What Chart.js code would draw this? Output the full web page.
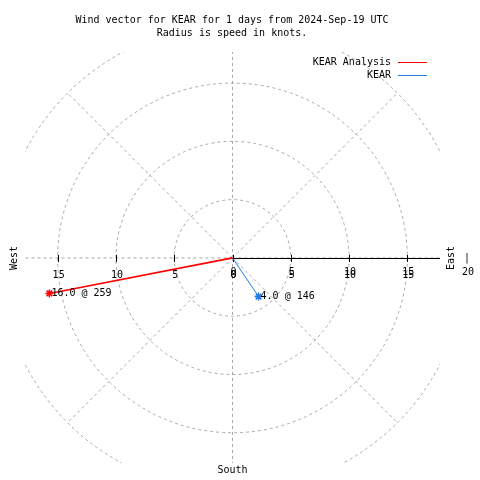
<!DOCTYPE html>
<html>
<head>
<meta charset="utf-8">
<script src="https://cdn.jsdelivr.net/npm/chart.js@4/dist/chart.umd.min.js"></script>
<style>
  body { margin: 0; background: #fff; }
  canvas { display: block; }
</style>
</head>
<body>
<canvas id="wind" width="480" height="480"></canvas>
<script>
// wind data, direction in degrees (from north), speed in knots
const stations = ['KEAR Analysis', 'KEAR'];
const speeds = [16.0, 4.0];
const directions = [259, 146];
const colors = ['#ff0000', '#1e7ae0'];
const widths = [1.6, 1];

const rings = [5, 10, 15, 20];
const spokes = [0, 45, 90, 135, 180, 225, 270, 315];
const tickVals = [0, 5, 10, 15];
const titleLines = ['Wind vector for KEAR for 1 days from 2024-Sep-19 UTC', 'Radius is speed in knots.'];

const FONT = '10px "DejaVu Sans Mono", monospace';

const toXY = (spd, dir) => {
    const r = dir * Math.PI / 180;
    return { x: spd * Math.sin(r), y: spd * Math.cos(r) };
};

const datasets = stations.map((name, i) => ({
    label: name,
    data: [{ x: 0, y: 0 }, toXY(speeds[i], directions[i])],
    showLine: true,
    borderColor: colors[i],
    backgroundColor: colors[i],
    borderWidth: widths[i],
    pointStyle: 'star',
    pointRadius: [0, 4],
    pointBorderWidth: 1.5,
    pointBorderColor: colors[i]
}));

const polarDecor = {
    id: 'polarDecor',
    beforeDatasetsDraw(chart) {
        const { ctx, chartArea: a, scales: { x, y } } = chart;
        const cx = x.getPixelForValue(0), cy = y.getPixelForValue(0);
        const k = x.getPixelForValue(1) - cx;
        ctx.save();
        ctx.beginPath();
        ctx.rect(a.left, a.top, a.right - a.left, a.bottom - a.top);
        ctx.clip();
        ctx.strokeStyle = '#a8a8a8';
        ctx.lineWidth = 1;
        ctx.setLineDash([3, 3]);
        rings.forEach(r => {
            ctx.beginPath();
            ctx.arc(cx, cy, r * k, 0, Math.PI * 2);
            ctx.stroke();
        });
        spokes.forEach(d => {
            const p = toXY(rings[rings.length - 1], d);
            if (d === 0 || d === 180) {
                p.y = d === 0 ? 30 : -30;
            }
            ctx.beginPath();
            ctx.moveTo(cx, cy);
            ctx.lineTo(x.getPixelForValue(p.x), y.getPixelForValue(p.y));
            ctx.stroke();
        });
        ctx.restore();

        // east axis (solid)
        ctx.save();
        ctx.strokeStyle = '#000';
        ctx.lineWidth = 1;
        ctx.beginPath();
        ctx.moveTo(cx, Math.round(cy) + 0.5);
        ctx.lineTo(a.right, Math.round(cy) + 0.5);
        ctx.stroke();
        tickVals.forEach(v => {
            [v, -v].forEach(t => {
                const px = Math.round(x.getPixelForValue(t)) + 0.5;
                ctx.beginPath();
                ctx.moveTo(px, cy - 3);
                ctx.lineTo(px, cy + 4);
                ctx.stroke();
            });
        });
        ctx.restore();
    },
    afterDatasetsDraw(chart) {
        const { ctx, chartArea: a, scales: { x, y } } = chart;
        const cx = x.getPixelForValue(0), cy = y.getPixelForValue(0);
        ctx.save();
        ctx.fillStyle = '#000';
        ctx.font = FONT;
        ctx.textBaseline = 'middle';

        // title
        ctx.textAlign = 'center';
        titleLines.forEach((t, i) => ctx.fillText(t, 232, 20 + i * 13));

        // tick labels (east side is printed twice, slightly shifted)
        tickVals.forEach(v => {
            ctx.fillText(String(v), x.getPixelForValue(-v) + 1, cy + 17);
            ctx.fillText(String(v), x.getPixelForValue(v) + 1, cy + 14);
            ctx.fillText(String(v), x.getPixelForValue(v) + 1, cy + 17);
        });
        ctx.fillText('20', 468, cy + 14);
        ctx.fillText('|', 467, cy);
        ctx.fillText('South', cx, 470);

        // rotated compass labels
        [['East', 451], ['West', 14]].forEach(([t, px]) => {
            ctx.save();
            ctx.translate(px, cy);
            ctx.rotate(-Math.PI / 2);
            ctx.fillText(t, 0, 0);
            ctx.restore();
        });

        // vector annotations
        ctx.textAlign = 'left';
        stations.forEach((s, i) => {
            const p = toXY(speeds[i], directions[i]);
            ctx.fillText(speeds[i].toFixed(1) + ' @ ' + directions[i],
                x.getPixelForValue(p.x) + 2, y.getPixelForValue(p.y) - 0.5);
        });

        // legend
        stations.forEach((s, i) => {
            const ly = 62 + i * 13;
            ctx.textAlign = 'right';
            ctx.fillText(s, 391, ly);
            ctx.strokeStyle = colors[i];
            ctx.lineWidth = 1;
            ctx.beginPath();
            ctx.moveTo(398, ly + 0.5);
            ctx.lineTo(427, ly + 0.5);
            ctx.stroke();
        });
        ctx.restore();
    }
};

new Chart(document.getElementById('wind'), {
    type: 'scatter',
    data: { datasets },
    options: {
        responsive: false,
        animation: false,
        layout: { padding: { left: 25, right: 40, top: 52, bottom: 17 } },
        scales: {
            x: { type: 'linear', min: -17.8, max: 17.8, display: false },
            y: { type: 'linear', min: -17.6, max: 17.67, display: false }
        },
        plugins: {
            legend: { display: false },
            title: { display: false },
            tooltip: { enabled: false }
        }
    },
    plugins: [polarDecor]
});
</script>
</body>
</html>
